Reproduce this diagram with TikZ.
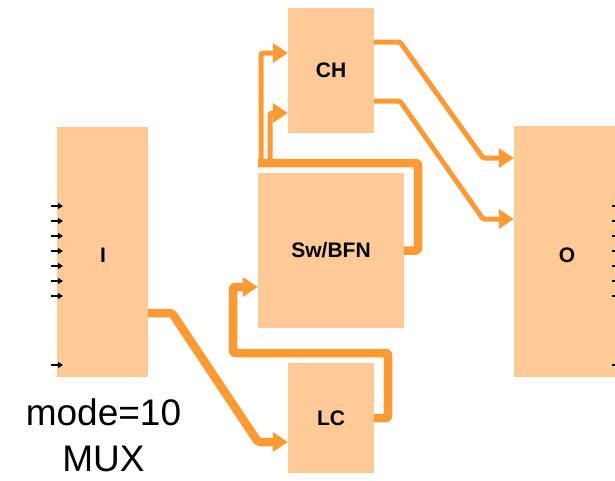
\documentclass[tikz,border=0pt]{standalone}
\usepackage{fontspec}
\setmainfont{Liberation Sans}
\usetikzlibrary{arrows.meta}
\definecolor{boxfill}{HTML}{FFCA96}
\definecolor{flow}{HTML}{FF9A33}
\begin{document}
\begin{tikzpicture}[x=1pt,y=-1pt,
  blk/.style={fill=boxfill,draw=none,inner sep=0pt,font=\fontsize{21}{24}\selectfont\bfseries},
  thinflow/.style={draw=flow,line width=5pt,line join=round,rounded corners=1.5pt,-{Triangle[length=15pt,width=19pt]}},
  thickflow/.style={draw=flow,line width=8.5pt,line join=round,rounded corners=2pt},
  pin/.style={draw=black,line width=1.8pt,-{Triangle[length=5pt,width=6pt]}},
  bigtext/.style={font=\fontsize{37}{46}\selectfont,anchor=base,inner sep=0pt}]
\useasboundingbox (0,0) rectangle (615,480);
\clip (0,0) rectangle (615,480);
% blocks
\node[blk,minimum width=91pt,minimum height=250pt] (I) at (102.5,252) {};
\node[font=\fontsize{21}{24}\selectfont\bfseries] (Il) at (103,255) {I};
\node[blk,minimum width=86pt,minimum height=125pt] (CH) at (331,70.5) {CH};
\node[blk,minimum width=146pt,minimum height=155pt] (SW) at (331,250.5) {Sw/BFN};
\node[blk,minimum width=86pt,minimum height=110pt] (LC) at (331,418) {LC};
\node[blk,minimum width=106pt,minimum height=251pt] (O) at (567,251.5) {};
\node[font=\fontsize{21}{24}\selectfont\bfseries] (Ol) at (567,255) {O};
% text
\node[bigtext] (mode) at (103.5,425) {mode=10};
\node[bigtext] (mux) at (103.5,471.5) {MUX};
% input pins on I and output pins on O
\foreach \yy [count=\k] in {206,221,236,251,266,281,296,365}{
  \coordinate (pi\k) at (51,\yy);
  \coordinate (po\k) at (612,\yy);
  \draw[pin] (pi\k) -- ++(12,0);
  \draw[pin] (po\k) -- ++(12,0);
}
% I -> LC
\coordinate (a1) at (172,313);
\coordinate (a2) at (258,442);
\draw[thickflow,-{Triangle[length=15pt,width=19pt]}] ([yshift=-61pt]I.east) -- (a1) -- (a2) -- ([yshift=-24pt]LC.west);
% LC -> Sw/BFN
\coordinate (b1) at (388,418);
\coordinate (b2) at (388,353);
\coordinate (b3) at (233,353);
\coordinate (b4) at (233,287);
\draw[thickflow,-{Triangle[length=15pt,width=19pt]}] (LC.east) -- (b1) -- (b2) -- (b3) -- (b4) -- ([yshift=-36.5pt]SW.west);
% Sw/BFN -> CH
\coordinate (c1) at (418,250.5);
\coordinate (c2) at (418,163);
\coordinate (c3) at (258,163);
\coordinate (c4) at (261,166);
\coordinate (c5) at (261,53);
\coordinate (c6) at (270,163);
\coordinate (c7) at (270,113);
\draw[thickflow] (SW.east) -- (c1) -- (c2) -- (c3);
\draw[thinflow] (c4) -- (c5) -- ([yshift=17.5pt]CH.west);
\draw[thinflow] (c6) -- (c7) -- ([yshift=-42.5pt]CH.west);
% CH -> O
\coordinate (d1) at (400,42);
\coordinate (d2) at (483,158);
\coordinate (e1) at (400,101);
\coordinate (e2) at (483,219);
\draw[thinflow] ([yshift=28.5pt]CH.east) -- (d1) -- (d2) -- ([yshift=93.5pt]O.west);
\draw[thinflow] ([yshift=-30.5pt]CH.east) -- (e1) -- (e2) -- ([yshift=32.5pt]O.west);
\end{tikzpicture}
\end{document}
